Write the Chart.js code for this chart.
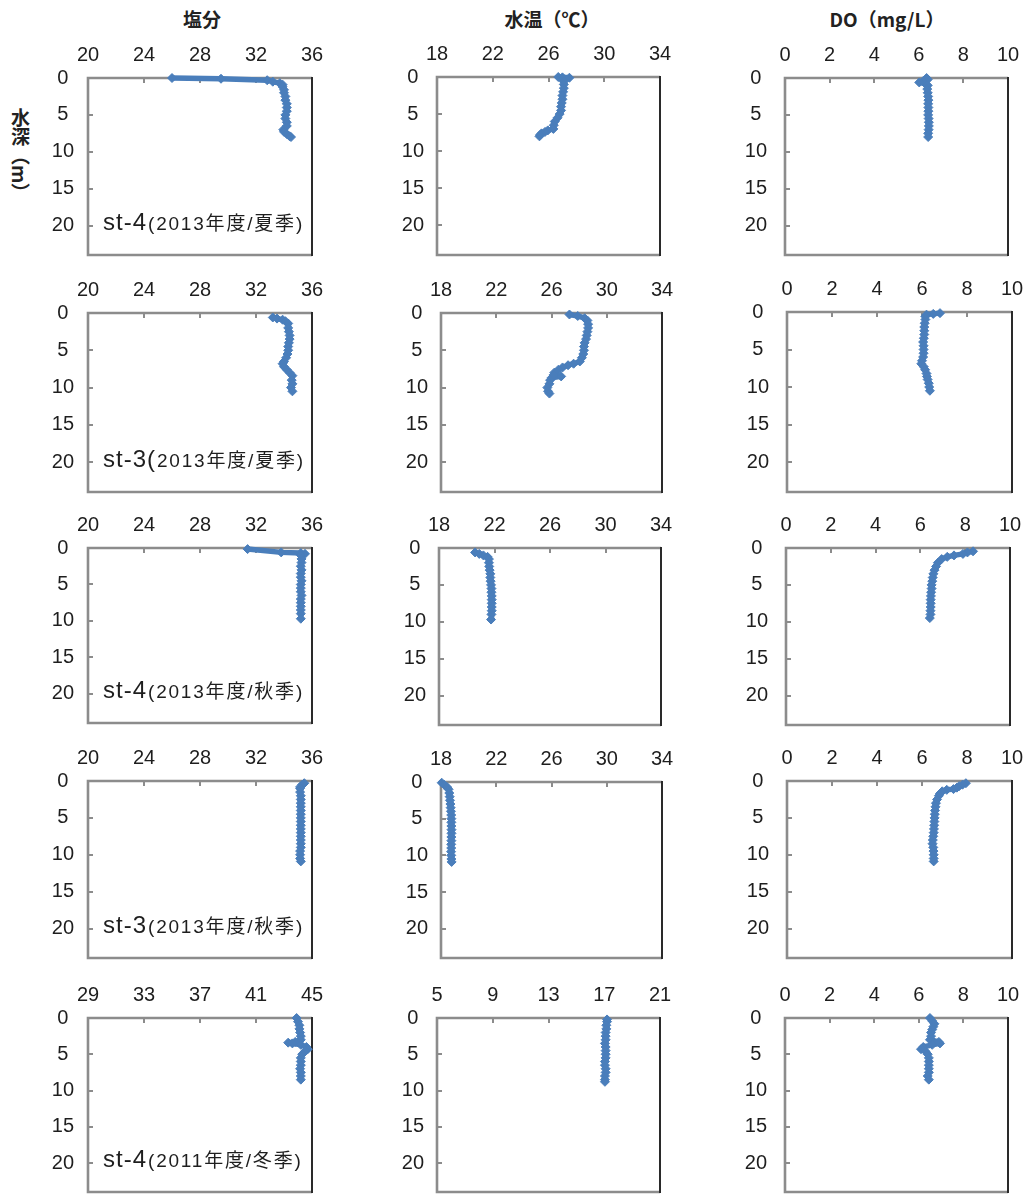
<!DOCTYPE html>
<html lang="ja">
<head>
<meta charset="utf-8">
<title>鉛直分布（塩分・水温・DO）</title>
<script src="https://cdn.jsdelivr.net/npm/chart.js@4.4.1/dist/chart.umd.min.js"></script>
<style>
  html, body { margin: 0; padding: 0; background: #fff; }
  body { width: 1030px; height: 1194px; position: relative; overflow: hidden; }
  canvas { position: absolute; }
  .ttl { position: absolute; top: 9px; font-family: "Noto Sans CJK JP", sans-serif; font-weight: 700;
         font-size: 19px; line-height: 1; color: #222; white-space: nowrap; transform: translateX(-50%); }
  .ylab { position: absolute; left: 11px; top: 108px; writing-mode: vertical-rl; font-family: "Noto Sans CJK JP", sans-serif;
          font-weight: 700; font-size: 19px; line-height: 1; color: #222; }
</style>
</head>
<body>
<div class="ttl" style="left:202px">塩分</div>
<div class="ttl" style="left:552px">水温（℃）</div>
<div class="ttl" style="left:887px">DO（mg/L）</div>
<div class="ylab">水深（m）</div>

<script>
// ---- axis ticks ----
const depthTicks = [0, 5, 10, 15, 20];
const depthMax = 24;
const salinityTicks = [20, 24, 28, 32, 36];
const salinityTicksWinter = [29, 33, 37, 41, 45];
const tempTicks = [18, 22, 26, 30, 34];
const tempTicksWinter = [5, 9, 13, 17, 21];
const doTicks = [0, 2, 4, 6, 8, 10];

// ---- station / survey labels (one per row) ----
const stationLabels = [
  ['st-4', '(2013年度/夏季)'],
  ['st-3(', '2013年度/夏季)'],
  ['st-4', '(2013年度/秋季)'],
  ['st-3', '(2013年度/秋季)'],
  ['st-4', '(2011年度/冬季)']
];

// ---- st-4, 2013 summer ----
const st4SumSalDepth = [0.0, 0.1, 0.3, 0.5, 0.7, 0.9, 1.2, 1.6, 2.0, 2.5, 3.0, 3.5, 4.0, 4.5, 5.0, 5.5, 6.0, 6.5, 7.0, 7.3, 7.6, 7.9, 8.0];
const st4SumSal      = [26.0, 29.5, 32.8, 33.2, 33.7, 33.9, 33.9, 34.0, 34.0, 34.1, 34.1, 34.2, 34.2, 34.2, 34.1, 34.1, 34.2, 34.2, 33.95, 34.0, 34.2, 34.4, 34.5];
const st4SumTempDepth = [0.0, 0.05, 0.1, 0.3, 0.6, 1.0, 1.5, 2.0, 2.5, 3.0, 3.5, 4.0, 4.5, 5.0, 5.5, 6.0, 6.5, 7.0, 7.2, 7.4, 7.6, 7.8, 8.0];
const st4SumTemp      = [26.7, 27.0, 27.5, 27.0, 27.1, 27.1, 27.1, 27.05, 27.0, 27.0, 26.95, 26.9, 26.9, 26.8, 26.65, 26.45, 26.38, 26.35, 25.95, 25.75, 25.5, 25.4, 25.35];
const st4SumDoDepth = [0.0, 0.2, 0.4, 0.6, 0.8, 1.0, 1.5, 2.0, 2.5, 3.0, 3.5, 4.0, 4.5, 5.0, 5.5, 6.0, 6.5, 7.0, 7.5, 8.0];
const st4SumDo      = [6.35, 6.4, 6.2, 6.02, 6.3, 6.4, 6.38, 6.4, 6.42, 6.43, 6.42, 6.43, 6.43, 6.42, 6.44, 6.45, 6.45, 6.44, 6.42, 6.42];

// ---- st-3, 2013 summer ----
const st3SumSalDepth = [0.6, 0.75, 0.9, 1.1, 1.4, 2.0, 2.5, 3.0, 3.5, 4.0, 4.5, 5.0, 5.5, 6.0, 6.5, 6.8, 7.2, 7.6, 8.0, 8.4, 9.0, 9.5, 10.0, 10.5];
const st3SumSal      = [33.2, 33.5, 33.9, 34.1, 34.3, 34.3, 34.35, 34.4, 34.4, 34.35, 34.3, 34.3, 34.25, 34.15, 34.0, 33.9, 34.0, 34.2, 34.4, 34.6, 34.55, 34.6, 34.5, 34.6];
const st3SumTempDepth = [0.2, 0.4, 0.7, 1.0, 1.5, 2.0, 2.5, 3.0, 3.5, 4.0, 4.5, 5.0, 5.5, 6.0, 6.5, 6.8, 7.0, 7.3, 7.6, 8.0, 8.3, 8.5, 8.7, 9.0, 9.5, 10.0, 10.5, 10.8];
const st3SumTemp      = [27.3, 27.9, 28.4, 28.6, 28.65, 28.65, 28.6, 28.55, 28.5, 28.4, 28.35, 28.35, 28.3, 28.2, 28.05, 27.6, 27.2, 26.8, 26.5, 26.2, 26.15, 26.7, 26.0, 25.9, 25.85, 25.7, 25.75, 25.85];
const st3SumDoDepth = [0.15, 0.25, 0.35, 0.6, 1.0, 1.5, 2.0, 2.5, 3.0, 3.5, 4.0, 4.5, 5.0, 5.5, 6.0, 6.5, 6.9, 7.3, 7.7, 8.2, 8.6, 9.0, 9.5, 10.0, 10.5];
const st3SumDo      = [6.8, 6.5, 6.2, 6.15, 6.15, 6.12, 6.1, 6.1, 6.1, 6.08, 6.05, 6.07, 6.07, 6.07, 6.05, 6.0, 5.97, 6.08, 6.14, 6.2, 6.22, 6.25, 6.3, 6.32, 6.35];

// ---- st-4, 2013 autumn ----
const st4AutSalDepth = [0.15, 0.6, 0.7, 0.8, 1.0, 1.5, 2.0, 2.5, 3.0, 3.5, 4.0, 4.5, 5.0, 5.5, 6.0, 6.5, 7.0, 7.5, 8.0, 8.5, 9.0, 9.7];
const st4AutSal      = [31.4, 33.8, 35.2, 35.5, 35.2, 35.25, 35.25, 35.2, 35.25, 35.2, 35.2, 35.25, 35.2, 35.2, 35.2, 35.25, 35.2, 35.2, 35.2, 35.2, 35.2, 35.2];
const st4AutTempDepth = [0.6, 0.8, 1.0, 1.2, 1.5, 2.0, 2.5, 3.0, 3.5, 4.0, 4.5, 5.0, 5.5, 6.0, 6.5, 7.0, 7.5, 8.0, 8.5, 9.0, 9.7];
const st4AutTemp      = [20.6, 20.9, 21.2, 21.5, 21.6, 21.6, 21.62, 21.65, 21.7, 21.7, 21.72, 21.75, 21.78, 21.78, 21.8, 21.8, 21.8, 21.8, 21.8, 21.78, 21.75];
const st4AutDoDepth = [0.45, 0.6, 0.8, 1.0, 1.2, 1.5, 2.0, 2.5, 3.0, 3.5, 4.0, 4.5, 5.0, 5.5, 6.0, 6.5, 7.0, 7.5, 8.0, 8.5, 9.0, 9.5];
const st4AutDo      = [8.35, 8.1, 7.9, 7.5, 7.2, 6.95, 6.78, 6.7, 6.63, 6.58, 6.55, 6.53, 6.5, 6.5, 6.48, 6.47, 6.46, 6.46, 6.46, 6.45, 6.45, 6.42];

// ---- st-3, 2013 autumn ----
const st3AutSalDepth = [0.3, 0.5, 0.8, 1.0, 1.5, 2.0, 2.5, 3.0, 3.5, 4.0, 4.5, 5.0, 5.5, 6.0, 6.5, 7.0, 7.5, 8.0, 8.5, 9.0, 9.5, 10.0, 10.5, 10.9];
const st3AutSal      = [35.45, 35.3, 35.15, 35.15, 35.15, 35.2, 35.2, 35.2, 35.2, 35.2, 35.2, 35.2, 35.2, 35.2, 35.2, 35.2, 35.2, 35.2, 35.2, 35.2, 35.15, 35.15, 35.15, 35.2];
const st3AutTempDepth = [0.1, 0.4, 0.7, 1.0, 1.5, 2.0, 2.5, 3.0, 3.5, 4.0, 4.5, 5.0, 5.5, 6.0, 6.5, 7.0, 7.5, 8.0, 8.5, 9.0, 9.5, 10.0, 10.5, 10.9];
const st3AutTemp      = [18.05, 18.25, 18.45, 18.55, 18.6, 18.63, 18.65, 18.68, 18.7, 18.72, 18.74, 18.75, 18.75, 18.75, 18.76, 18.76, 18.75, 18.75, 18.74, 18.74, 18.73, 18.74, 18.75, 18.77];
const st3AutDoDepth = [0.3, 0.5, 0.7, 0.9, 1.1, 1.2, 1.4, 1.7, 2.0, 2.5, 3.0, 3.5, 4.0, 4.5, 5.0, 5.5, 6.0, 6.5, 7.0, 7.5, 8.0, 8.5, 9.0, 9.5, 10.0, 10.5, 10.9];
const st3AutDo      = [7.95, 7.8, 7.65, 7.55, 7.4, 7.1, 6.9, 6.8, 6.75, 6.67, 6.62, 6.6, 6.58, 6.57, 6.56, 6.55, 6.54, 6.53, 6.52, 6.5, 6.48, 6.47, 6.5, 6.51, 6.52, 6.52, 6.52];

// ---- st-4, 2011 winter ----
const st4WinSalDepth = [0.0, 0.5, 1.0, 1.5, 2.0, 2.5, 3.0, 3.3, 3.4, 3.5, 3.7, 4.0, 4.3, 4.6, 5.0, 5.5, 6.0, 6.5, 7.0, 7.5, 8.0, 8.5];
const st4WinSal      = [43.9, 44.0, 44.1, 44.1, 44.15, 44.2, 44.2, 43.8, 43.3, 43.6, 44.2, 44.6, 44.7, 44.5, 44.3, 44.2, 44.2, 44.2, 44.15, 44.2, 44.2, 44.2];
const st4WinTempDepth = [0.2, 0.5, 1.0, 1.5, 2.0, 2.5, 3.0, 3.5, 4.0, 4.5, 5.0, 5.5, 6.0, 6.5, 7.0, 7.5, 8.0, 8.5, 8.8];
const st4WinTemp      = [17.2, 17.2, 17.15, 17.15, 17.1, 17.1, 17.1, 17.05, 17.1, 17.1, 17.1, 17.1, 17.05, 17.05, 17.1, 17.1, 17.05, 17.05, 17.05];
const st4WinDoDepth = [0.0, 0.4, 0.8, 1.2, 1.6, 2.0, 2.5, 3.0, 3.3, 3.5, 3.7, 4.0, 4.3, 4.6, 5.0, 5.5, 6.0, 6.5, 7.0, 7.5, 8.0, 8.5];
const st4WinDo      = [6.5, 6.6, 6.7, 6.65, 6.6, 6.55, 6.55, 6.5, 6.9, 6.95, 6.6, 6.2, 6.1, 6.3, 6.4, 6.45, 6.45, 6.45, 6.45, 6.45, 6.4, 6.45];

// ---- panel layout: plot-area boxes on the page ----
const panels = [
  { box: [88, 78, 312, 255],    ticks: salinityTicks,       depth: st4SumSalDepth,  vals: st4SumSal,  row: 0, col: 0 },
  { box: [437, 77, 660, 255],   ticks: tempTicks,           depth: st4SumTempDepth, vals: st4SumTemp, row: 0, col: 1 },
  { box: [785, 78, 1008, 255],  ticks: doTicks,             depth: st4SumDoDepth,   vals: st4SumDo,   row: 0, col: 2 },
  { box: [88, 313, 312, 492],   ticks: salinityTicks,       depth: st3SumSalDepth,  vals: st3SumSal,  row: 1, col: 0 },
  { box: [441, 313, 662, 492],  ticks: tempTicks,           depth: st3SumTempDepth, vals: st3SumTemp, row: 1, col: 1 },
  { box: [787, 312, 1012, 492], ticks: doTicks,             depth: st3SumDoDepth,   vals: st3SumDo,   row: 1, col: 2 },
  { box: [88, 548, 312, 723],   ticks: salinityTicks,       depth: st4AutSalDepth,  vals: st4AutSal,  row: 2, col: 0 },
  { box: [439, 548, 661, 725],  ticks: tempTicks,           depth: st4AutTempDepth, vals: st4AutTemp, row: 2, col: 1 },
  { box: [786, 548, 1010, 725], ticks: doTicks,             depth: st4AutDoDepth,   vals: st4AutDo,   row: 2, col: 2 },
  { box: [88, 781, 312, 958],   ticks: salinityTicks,       depth: st3AutSalDepth,  vals: st3AutSal,  row: 3, col: 0 },
  { box: [441, 782, 662, 958],  ticks: tempTicks,           depth: st3AutTempDepth, vals: st3AutTemp, row: 3, col: 1 },
  { box: [787, 781, 1012, 958], ticks: doTicks,             depth: st3AutDoDepth,   vals: st3AutDo,   row: 3, col: 2 },
  { box: [88, 1018, 312, 1192], ticks: salinityTicksWinter, depth: st4WinSalDepth,  vals: st4WinSal,  row: 4, col: 0 },
  { box: [437, 1018, 660, 1192],ticks: tempTicksWinter,     depth: st4WinTempDepth, vals: st4WinTemp, row: 4, col: 1 },
  { box: [785, 1018, 1008, 1192],ticks: doTicks,            depth: st4WinDoDepth,   vals: st4WinDo,   row: 4, col: 2 }
];

// canvas margins around each plot area (room for labels and label overflow)
const PAD_L = 72, PAD_T = 46, PAD_R = 30, PAD_B = 30;
const LINE_BLUE = '#4a7ebb';
const AXIS_GREY = '#8c8c8c';
const TEXT = '#1e1e1e';
const yLabelGap = [14, 13, 18];   // per column: distance of depth labels from the axis

// plot frame: grey left/top/bottom, dark right edge, short inward tick marks
const framePlugin = {
  id: 'frame',
  beforeDatasetsDraw(chart) {
    const { ctx, chartArea: a, scales } = chart;
    const xs = scales.x, ys = scales.y;
    ctx.save();
    ctx.lineCap = 'butt';
    ctx.strokeStyle = AXIS_GREY;
    ctx.lineWidth = 2;
    ctx.beginPath();
    xs.ticks.forEach(t => {
      const px = Math.round(xs.getPixelForValue(t.value));
      if (px > a.left + 2 && px < a.right - 2) { ctx.moveTo(px, a.top); ctx.lineTo(px, a.top + 5); }
    });
    ys.ticks.forEach(t => {
      const py = Math.round(ys.getPixelForValue(t.value));
      if (py > a.top + 2 && py < a.bottom - 2) { ctx.moveTo(a.left, py); ctx.lineTo(a.left + 5, py); }
    });
    ctx.stroke();
    ctx.lineWidth = 2.6;
    ctx.beginPath();
    ctx.moveTo(a.right, a.top); ctx.lineTo(a.left, a.top);
    ctx.lineTo(a.left, a.bottom); ctx.lineTo(a.right, a.bottom);
    ctx.stroke();
    ctx.strokeStyle = '#2a2a2a';
    ctx.lineWidth = 2;
    ctx.beginPath();
    ctx.moveTo(a.right, a.top - 1); ctx.lineTo(a.right, a.bottom + 1);
    ctx.stroke();
    ctx.restore();
  }
};

// station name written in the lower left of the salinity panels
const stationPlugin = {
  id: 'station',
  afterDraw(chart, args, opts) {
    if (!opts || !opts.big) return;
    const { ctx, chartArea: a } = chart;
    const base = a.bottom - 25;
    let x = a.left + 15;
    ctx.save();
    ctx.fillStyle = TEXT;
    ctx.textBaseline = 'alphabetic';
    ctx.textAlign = 'left';
    ctx.letterSpacing = '1px';
    ctx.font = '24px "Liberation Sans", "Noto Sans CJK JP", sans-serif';
    ctx.fillText(opts.big, x, base);
    x += ctx.measureText(opts.big).width;
    ctx.font = '19px "Liberation Sans", "Noto Sans CJK JP", sans-serif';
    ctx.letterSpacing = '1.8px';
    ctx.fillText(opts.small, x + 1, base);
    ctx.restore();
  }
};

const tickFont = { family: '"Liberation Sans", Arial, sans-serif', size: 20 };

panels.forEach(p => {
  const [l, t, r, b] = p.box;
  const cv = document.createElement('canvas');
  cv.width = (r - l) + PAD_L + PAD_R;
  cv.height = (b - t) + PAD_T + PAD_B;
  cv.style.left = (l - PAD_L) + 'px';
  cv.style.top = (t - PAD_T) + 'px';
  document.body.appendChild(cv);

  const points = p.depth.map((d, i) => ({ x: p.vals[i], y: d }));
  const lab = p.col === 0 ? stationLabels[p.row] : null;

  new Chart(cv, {
    type: 'scatter',
    data: {
      datasets: [{
        data: points,
        showLine: true,
        borderColor: LINE_BLUE,
        backgroundColor: LINE_BLUE,
        borderWidth: 5.5,
        borderJoinStyle: 'round',
        borderCapStyle: 'round',
        pointStyle: 'rectRot',
        pointRadius: 4.5,
        pointBorderWidth: 1,
        pointBorderColor: LINE_BLUE,
        pointBackgroundColor: LINE_BLUE,
        tension: 0,
        clip: false
      }]
    },
    options: {
      responsive: false,
      devicePixelRatio: 1,
      animation: false,
      events: [],
      layout: { padding: { left: 0, top: 0, right: PAD_R, bottom: PAD_B } },
      plugins: {
        legend: { display: false },
        tooltip: { enabled: false },
        station: lab ? { big: lab[0], small: lab[1] } : {}
      },
      scales: {
        x: {
          type: 'linear',
          position: 'top',
          min: p.ticks[0],
          max: p.ticks[p.ticks.length - 1],
          afterBuildTicks: s => { s.ticks = p.ticks.map(v => ({ value: v })); },
          afterFit: s => { s.height = PAD_T; },
          grid: { display: false, drawTicks: false },
          border: { display: false },
          ticks: { font: tickFont, color: TEXT, padding: 11, maxRotation: 0, minRotation: 0, autoSkip: false }
        },
        y: {
          type: 'linear',
          position: 'left',
          reverse: true,
          min: 0,
          max: depthMax,
          afterBuildTicks: s => { s.ticks = depthTicks.map(v => ({ value: v })); },
          afterFit: s => { s.width = PAD_L; },
          grid: { display: false, drawTicks: false },
          border: { display: false },
          ticks: { font: tickFont, color: TEXT, padding: yLabelGap[p.col], crossAlign: 'center', autoSkip: false }
        }
      }
    },
    plugins: [framePlugin, stationPlugin]
  });
});
</script>
</body>
</html>
